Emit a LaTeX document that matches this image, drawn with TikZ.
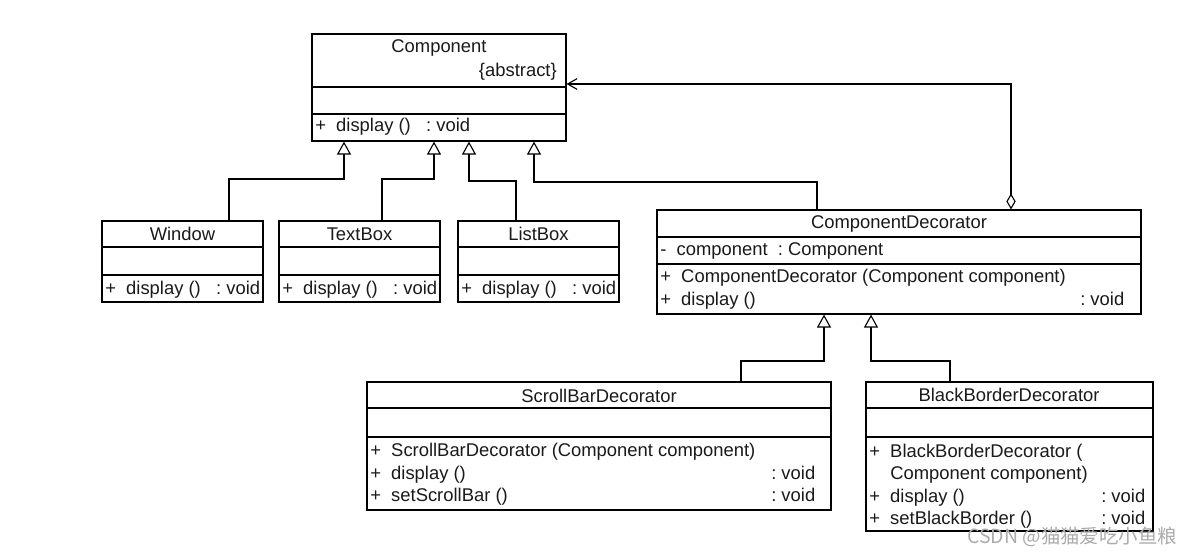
\documentclass[tikz,border=0pt]{standalone}
\usepackage{fontspec}
\setmainfont{Liberation Sans}
\newfontfamily\cjk{Noto Sans CJK SC}
\usetikzlibrary{arrows.meta,fit}
\definecolor{UMLInk}{HTML}{000000}
\definecolor{UMLText}{HTML}{1A1A1A}
\definecolor{WMGray}{HTML}{ABABAB}

\begin{document}
\begin{tikzpicture}[
    x=0.75pt, y=-0.75pt,
    font=\fontsize{13.8}{16}\selectfont,
    % 类框与分隔线
    cls/.style={draw=UMLInk, line width=0.85pt, inner sep=0pt, fill=white},
    sep/.style={draw=UMLInk, line width=0.85pt},
    title/.style={anchor=base, inner sep=0pt, text=UMLText},
    member/.style={anchor=base west, inner sep=0pt, text=UMLText},
    % 继承: 空心三角
    gen/.style={draw=UMLInk, line width=0.85pt,
        -{Triangle[length=9.75pt, width=10.5pt, fill=white]}},
    % 聚合: 菱形 + 开放箭头
    agg/.style={draw=UMLInk, line width=0.85pt,
        {Diamond[length=12pt, width=7pt, fill=white]}-{Straight Barb[length=7pt, width=8pt]}}
]
    \useasboundingbox (0,0) rectangle (1194,556);

    % --- 1. 抽象构件 ---
    \node[cls, fit={(312,34) (566,141)}] (comp) {};
    \node[title] (comp-name) at (439,53) {Component};
    \node[member, anchor=base east] (comp-abs) at (557,77) {\{abstract\}};
    \node[member] (comp-op) at (315,132) {+~~display ()~~~:~void};

    % --- 2. 具体构件 ---
    \foreach \n/\t/\l in {win/Window/102, tbox/TextBox/279, lbox/ListBox/458} {
        \node[cls, fit={(\l,221) (\l+161,302)}] (\n) {};
        \draw[sep] (\n.west |- 0,247) -- (\n.east |- 0,247);
        \draw[sep] (\n.west |- 0,275) -- (\n.east |- 0,275);
        \node[title] (\n-name) at (\l+80.5,240) {\t};
        \node[member] (\n-op) at (\l+3,294) {+~~display ()~~~:~void};
    }

    % --- 3. 装饰类 ---
    \node[cls, fit={(657,210) (1141,314)}] (cd) {};
    \node[title] (cd-name) at (899,228) {ComponentDecorator};
    \node[member] (cd-att) at (660,255) {-~~component~~:~Component};
    \node[member] (cd-op1) at (660,282) {+~~ComponentDecorator (Component component)};
    \node[member] (cd-op2) at (660,305) {+~~display ()};
    \node[member] (cd-ty2) at (1080,305) {:~void};

    % --- 4. 具体装饰类 ---
    \node[cls, fit={(367,382) (831,510)}] (sb) {};
    \node[title] (sb-name) at (599,402) {ScrollBarDecorator};
    \node[member] (sb-op1) at (370,456) {+~~ScrollBarDecorator (Component component)};
    \node[member] (sb-op2) at (370,479) {+~~display ()};
    \node[member] (sb-op3) at (370,501) {+~~setScrollBar ()};
    \node[member] (sb-ty2) at (771,479) {:~void};
    \node[member] (sb-ty3) at (771,501) {:~void};

    \node[cls, fit={(866,382) (1153,531)}] (bb) {};
    \node[title] (bb-name) at (1009,401) {BlackBorderDecorator};
    \node[member] (bb-op1) at (869,457) {+~~BlackBorderDecorator (};
    \node[member] (bb-op1b) at (890,479) {Component component)};
    \node[member] (bb-op2) at (869,502) {+~~display ()};
    \node[member] (bb-op3) at (869,524) {+~~setBlackBorder ()};
    \node[member] (bb-ty2) at (1101,502) {:~void};
    \node[member] (bb-ty3) at (1101,524) {:~void};

    \foreach \n/\y in {comp/87, comp/114, cd/237, cd/264, sb/408, sb/437, bb/408, bb/437}
        \draw[sep] (\n.west |- 0,\y) -- (\n.east |- 0,\y);

    % --- 5. 连线 ---
    \draw[gen] (win.north -| 229,0) |- (344,179) -- (comp.south -| 344,0);
    \draw[gen] (tbox.north -| 382,0) |- (434,179) -- (comp.south -| 434,0);
    \draw[gen] (lbox.north -| 516,0) |- (469,181) -- (comp.south -| 469,0);
    \draw[gen] (cd.north -| 817,0) |- (534,182) -- (comp.south -| 534,0);
    \draw[gen] (sb.north -| 741,0) |- (824,361) -- (cd.south -| 824,0);
    \draw[gen] (bb.north -| 950,0) |- (871,361) -- (cd.south -| 871,0);
    \draw[agg] (cd.north -| 1011,0) |- (comp.east |- 0,84);

    % 水印
    \node[member, text=WMGray, font=\cjk\fontsize{14.6}{16}\selectfont] (wm) at (967,543) {CSDN @猫猫爱吃小鱼粮};

\end{tikzpicture}
\end{document}
